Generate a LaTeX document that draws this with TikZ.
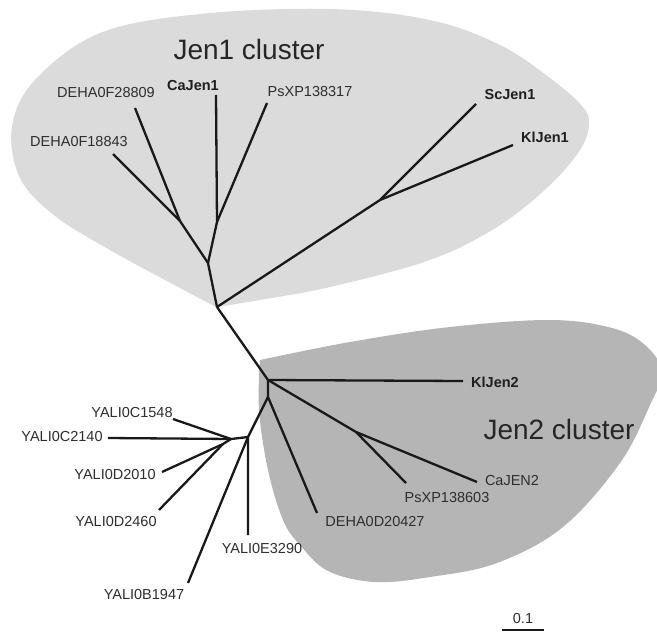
\documentclass[tikz,border=0pt]{standalone}
\usepackage{fontspec}
\setmainfont{Liberation Sans}
\begin{document}
\begin{tikzpicture}[x=1pt,y=-1pt,
  branch/.style={line width=2.3pt, draw=black!90, line join=round},
  lab/.style={inner sep=0pt, text=black!82, font=\fontsize{14.5}{17}\selectfont},
  blab/.style={lab, text=black!88, font=\fontsize{14.5}{17}\selectfont\bfseries},
  clab/.style={inner sep=0pt, text=black!85, font=\fontsize{28}{32}\selectfont}]
\useasboundingbox (0,0) rectangle (657,635);
\fill[white] (0,0) rectangle (657,635);
% Jen1 cluster area
\fill[black!14] plot[smooth, tension=0.6] coordinates {(216,307) (260,300) (330,287) (430,260) (497,227) (548,187) (580,150) (589,124) (582,106) (550,78) (500,45) (430,20) (330,9) (200,14) (100,33) (35,80) (12,127) (20,178) (55,216) (110,250) (165,280) (216,307)} -- cycle;
% Jen2 cluster area
\begin{scope}
\clip (0,0) rectangle (657,635);
\fill[black!29] plot[smooth, tension=0.6] coordinates {(260,360) (350,342) (450,327) (550,320) (612,328) (645,345) (662,372) (650,405) (620,463) (563,527) (497,563) (430,577) (375,582) (328,571) (300,545) (283,520) (268,470) (259,410) (260,360)} -- cycle;
\end{scope}
% internal nodes
\coordinate (A) at (217,307);
\coordinate (B) at (208,263);
\coordinate (C) at (180,221);
\coordinate (D) at (217,222);
\coordinate (E) at (380,200);
\coordinate (F) at (268,380);
\coordinate (H) at (356,432);
\coordinate (I) at (268,397);
\coordinate (J) at (248,437);
\coordinate (K) at (231,439);
\coordinate (L) at (223,444);
% tips
\coordinate (t18843) at (113,154);
\coordinate (t28809) at (135,108);
\coordinate (tCa1) at (216,95);
\coordinate (tPs317) at (267,103);
\coordinate (tSc1) at (476,104);
\coordinate (tKl1) at (513,145);
\coordinate (tKl2) at (463,381);
\coordinate (tCa2) at (477,482);
\coordinate (tPs603) at (406,483);
\coordinate (tD20427) at (317,513);
\coordinate (tE3290) at (248,535);
\coordinate (tB1947) at (188,583);
\coordinate (tC1548) at (173,419);
\coordinate (tC2140) at (108,438);
\coordinate (tD2010) at (162,472);
\coordinate (tD2460) at (159,510);
% branches
\draw[branch] (A) -- (B) -- (C) -- (t18843);
\draw[branch] (C) -- (t28809);
\draw[branch] (B) -- (D) -- (tCa1);
\draw[branch] (D) -- (tPs317);
\draw[branch] (A) -- (E) -- (tSc1);
\draw[branch] (E) -- (tKl1);
\draw[branch] (A) -- (F) -- (tKl2);
\draw[branch] (F) -- (H) -- (tCa2);
\draw[branch] (H) -- (tPs603);
\draw[branch] (F) -- (I) -- (tD20427);
\draw[branch] (I) -- (J) -- (tE3290);
\draw[branch] (J) -- (tB1947);
\draw[branch] (J) -- (K) -- (tC1548);
\draw[branch] (K) -- (tC2140);
\draw[branch] (K) -- (L) -- (tD2010);
\draw[branch] (L) -- (tD2460);
% labels
\node[clab] (jen1) at (249,49) {Jen1 cluster};
\node[clab] (jen2) at (559,429) {Jen2 cluster};
\node[lab] (l18843) at (79,142) {DEHA0F18843};
\node[lab] (l28809) at (106,93) {DEHA0F28809};
\node[blab] (lCa1) at (193,86) {CaJen1};
\node[lab] (lPs317) at (310,92) {PsXP138317};
\node[blab] (lSc1) at (510,95) {ScJen1};
\node[blab] (lKl1) at (545,137) {KlJen1};
\node[blab] (lKl2) at (495,382) {KlJen2};
\node[lab] (lCa2) at (512,481) {CaJEN2};
\node[lab] (lPs603) at (447,498) {PsXP138603};
\node[lab] (lD20427) at (375,522) {DEHA0D20427};
\node[lab] (lE3290) at (262,549) {YALI0E3290};
\node[lab] (lB1947) at (144,595) {YALI0B1947};
\node[lab] (lC1548) at (132,413) {YALI0C1548};
\node[lab] (lC2140) at (62,437) {YALI0C2140};
\node[lab] (lD2010) at (115,475) {YALI0D2010};
\node[lab] (lD2460) at (116,522) {YALI0D2460};
% scale bar
\node[lab] (scale) at (523,619) {0.1};
\coordinate (sb1) at (502,630);
\coordinate (sb2) at (544,630);
\draw[branch] (sb1) -- (sb2);
\end{tikzpicture}
\end{document}
